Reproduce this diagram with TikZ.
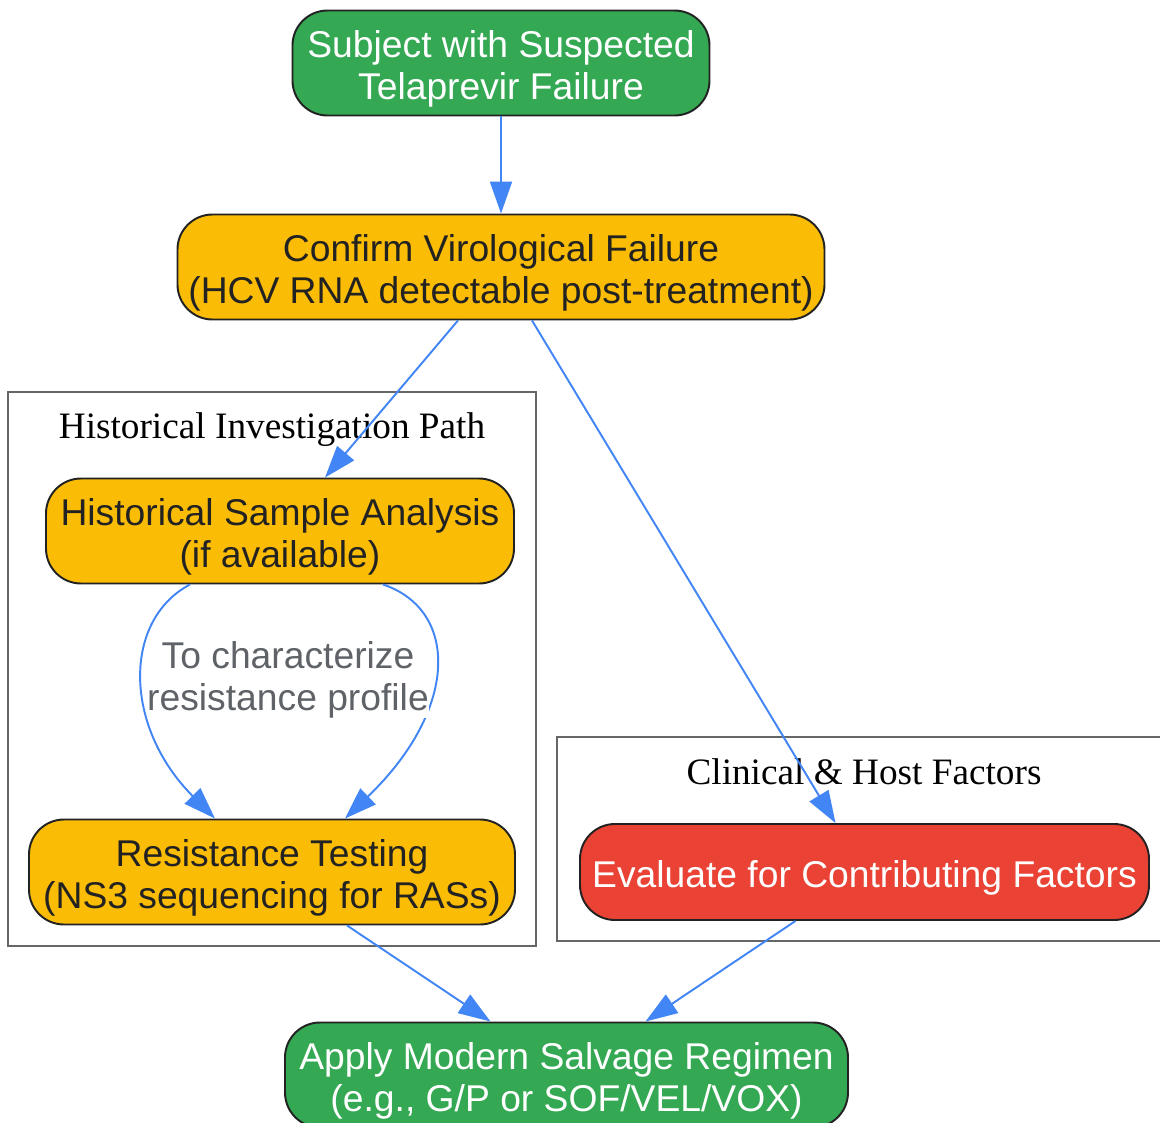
\documentclass[tikz,border=0pt]{standalone}
\usepackage{fontspec}
\setmainfont{Liberation Serif}
\newfontfamily\boxfont{Liberation Sans}
\usepackage{tikz}
\usetikzlibrary{shapes,arrows,arrows.meta,calc}
\usetikzlibrary{positioning}
\definecolor{clrGreen}{HTML}{34A853}
\definecolor{clrYellow}{HTML}{FBBC05}
\definecolor{clrRed}{HTML}{EA4335}
\definecolor{clrArrow}{HTML}{4285F4}
\definecolor{clrLabel}{HTML}{5F6368}
\definecolor{clrBorders}{HTML}{222222}
\definecolor{clrCluster}{HTML}{666666}
\newcommand{\hautligne}{\rule{0pt}{21.6pt}}
\tikzstyle{box_style00}=[draw=clrBorders, line width=1.1pt, rounded corners=7mm, anchor=center, align=center,
font=\boxfont\fontsize{21.2}{23.8}\selectfont, inner sep=0pt]
\tikzstyle{diagram0}=[box_style00, minimum height=21mm]
\tikzstyle{diagram1}=[box_style00, minimum height=19.2mm, execute at begin node={\hautligne}]
\tikzstyle{debut}=[diagram0, fill=clrGreen, text=white]
\tikzstyle{etape}=[diagram0, fill=clrYellow, text=clrBorders]
\tikzstyle{facteurs}=[diagram1, fill=clrRed, text=white]
\tikzstyle{myarrow}=[-{Stealth[inset=0pt, length=6.4mm, width=4.4mm]}, line width=1.1pt, draw=clrArrow]
\tikzstyle{cluster}=[draw=clrCluster, line width=1.1pt]
\tikzstyle{clusterlabel}=[font=\fontsize{21.2}{23.8}\selectfont, inner sep=0pt]

\begin{document}
\begin{tikzpicture}
		\useasboundingbox (0,0) rectangle (23.2,-22.46) ;

		% clusters
		\draw[cluster] (0.16,-7.84) rectangle (10.72,-18.92) ;
		\node[clusterlabel] (histLabel) at (5.44,-8.6) {Historical Investigation Path} ;
		\draw[cluster] (11.14,-14.74) rectangle (23.45,-18.82) ;
		\node[clusterlabel] (clinLabel) at (17.28,-15.44) {Clinical \& Host Factors} ;

		\node[debut, minimum width=83.4mm] (A) at (10.02,-1.26) {\hautligne Subject with Suspected\\Telaprevir Failure} ;

		\node[etape, minimum width=129.4mm] (B) at (10.02,-5.34) {\hautligne Confirm Virological Failure\\(HCV RNA detectable post-treatment)} ;
		\draw[myarrow] (A) -- (B) ;

		\node[etape, minimum width=93.6mm] (C) at (5.6,-10.62) {\hautligne Historical Sample Analysis\\(if available)} ;
		\draw[myarrow] ([xshift=-8.6mm]B.south) -- ([xshift=9mm]C.north) ;

		\node[etape, minimum width=97.2mm] (D) at (5.44,-17.44) {\hautligne Resistance Testing\\(NS3 sequencing for RASs)} ;
		\draw[myarrow] ([xshift=-18mm]C.south) .. controls (2.46,-12.4) and (2.46,-14.52) .. ([xshift=-11.4mm]D.north) ;
		\draw[myarrow] ([xshift=20.6mm]C.south) .. controls (9.18,-12.2) and (9.18,-14.18) .. ([xshift=14.6mm]D.north) ;
		\node[align=center, text=clrLabel, font=\boxfont\fontsize{21.2}{23.8}\selectfont, inner sep=0pt, fill=white] (lbl) at (5.76,-13.6) {To characterize\\resistance profile} ;

		\node[facteurs, minimum width=113.8mm] (E) at (17.29,-17.44) {Evaluate for Contributing Factors} ;
		\draw[myarrow] ([xshift=6.2mm]B.south) -- ([xshift=-5.8mm]E.north) ;

		\node[debut, minimum width=112.6mm] (F) at (11.33,-21.5) {\hautligne Apply Modern Salvage Regimen\\(e.g., G/P or SOF/VEL/VOX)} ;
		\draw[myarrow] ([xshift=15mm]D.south) -- ([xshift=-15.2mm]F.north) ;
		\draw[myarrow] ([xshift=-13.8mm]E.south) -- ([xshift=15.8mm]F.north) ;

	\end{tikzpicture}
\end{document}
